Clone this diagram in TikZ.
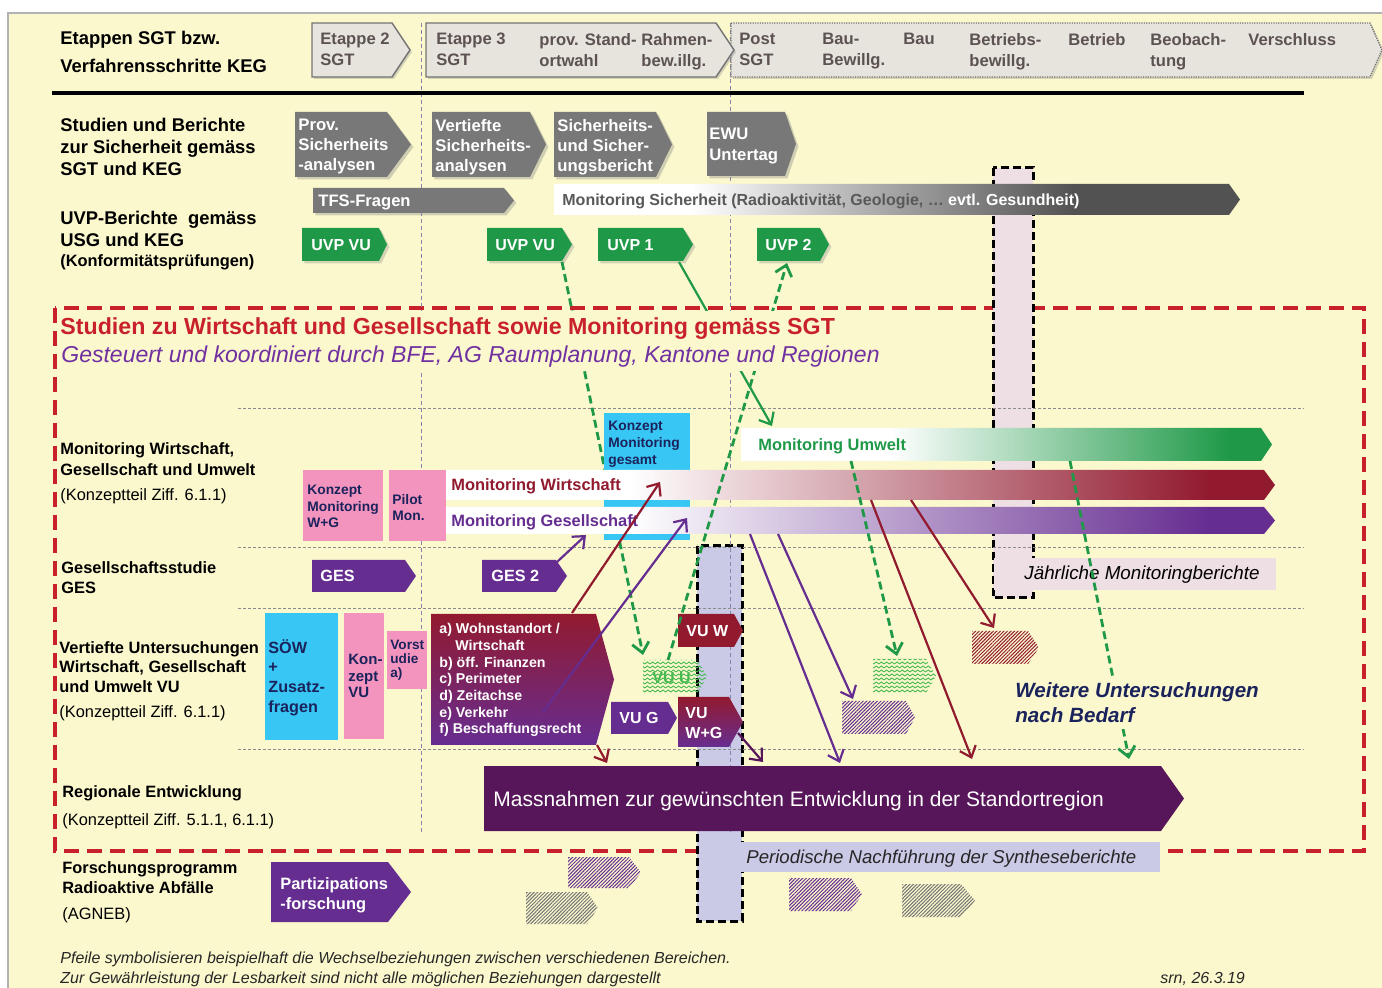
\documentclass[tikz,border=0pt]{standalone}
\usepackage{fontspec}
\setmainfont{Liberation Sans}
\usetikzlibrary{arrows.meta, patterns, patterns.meta, shadows}

\definecolor{bgyel}{RGB}{251,248,206}
\definecolor{hdrfill}{RGB}{231,228,222}
\definecolor{hdrtext}{RGB}{92,82,82}
\definecolor{sgray}{RGB}{120,120,120}
\definecolor{ugreen}{RGB}{31,153,72}
\definecolor{vuugreen}{RGB}{70,185,80}
\definecolor{wred}{RGB}{146,26,47}
\definecolor{gpurple}{RGB}{102,45,145}
\definecolor{plum}{RGB}{87,22,89}
\definecolor{kcyan}{RGB}{56,198,244}
\definecolor{kpink}{RGB}{243,148,190}
\definecolor{knavy}{RGB}{27,35,92}
\definecolor{colpink}{RGB}{238,223,228}
\definecolor{collav}{RGB}{202,201,230}
\definecolor{dred}{RGB}{201,33,41}
\definecolor{tpurple}{RGB}{112,48,160}

\pgfdeclarehorizontalshading{msich}{100bp}{color(0bp)=(white); color(35bp)=(white); color(63bp)=(black!68); color(100bp)=(black!68)}
\pgfdeclarehorizontalshading{mwirt}{100bp}{color(0bp)=(white); color(36bp)=(white); color(71bp)=(wred); color(100bp)=(wred)}
\pgfdeclarehorizontalshading{mges}{100bp}{color(0bp)=(white); color(36bp)=(white); color(71bp)=(gpurple); color(100bp)=(gpurple)}
\pgfdeclarehorizontalshading{mumw}{100bp}{color(0bp)=(white); color(39bp)=(white); color(71bp)=(ugreen); color(100bp)=(ugreen)}

\pgfdeclarepatternformonly{zigzag}{\pgfqpoint{-0.5pt}{-0.5pt}}{\pgfqpoint{3.5pt}{2.5pt}}{\pgfqpoint{2.6pt}{2pt}}{%
  \pgfsetlinewidth{0.45pt}%
  \pgfpathmoveto{\pgfqpoint{0pt}{0pt}}%
  \pgfpathlineto{\pgfqpoint{1.3pt}{1pt}}%
  \pgfpathlineto{\pgfqpoint{2.6pt}{0pt}}%
  \pgfusepath{stroke}}

\newcommand{\fsz}[2]{\fontsize{#1}{#2}\selectfont}
% chevron: left, top, tip x, bottom, tip length
\newcommand{\chev}[5]{(#1,#2) -- (#3-#5,#2) -- (#3,{(#2+#4)/2}) -- (#3-#5,#4) -- (#1,#4) -- cycle}

\begin{document}
\begin{tikzpicture}[x=0.5pt, y=-0.5pt,
    >={Straight Barb[length=5pt, width=8.5pt]},
    hdrarrow/.style={fill=hdrfill, draw=black!55, line width=0.7pt, drop shadow={shadow xshift=1pt, shadow yshift=-1pt, opacity=0.3}},
    safearrow/.style={fill=sgray, drop shadow={shadow xshift=1.2pt, shadow yshift=-1.2pt, opacity=0.35}},
    uvparrow/.style={fill=ugreen, drop shadow={shadow xshift=1.2pt, shadow yshift=-1.2pt, opacity=0.3}},
    hatch/.style={pattern={Lines[angle=45, distance=1.25pt, line width=0.5pt]}},
    column/.style={draw=black, line width=1.5pt, dash pattern=on 4pt off 2pt},
    redframe/.style={draw=dred, line width=1.6pt, dash pattern=on 7.5pt off 4pt},
    gridline/.style={draw=black!45, line width=0.5pt, dash pattern=on 1.5pt off 1pt},
    vline/.style={draw=blue!20!gray!80, line width=0.4pt, dash pattern=on 2pt off 1.5pt},
    link/.style={line width=1.1pt, ->},
    dashlink/.style={link, line width=1.4pt, dash pattern=on 4pt off 2.2pt},
    rowlbl/.style={anchor=north west, inner sep=0pt, align=left, font=\fsz{9.2}{11}\bfseries},
    rowlbls/.style={anchor=north west, inner sep=0pt, align=left, font=\fsz{8.2}{10.5}\bfseries},
    rowref/.style={anchor=base west, inner sep=0pt, font=\fsz{8.2}{10}},
    hdrtxt/.style={anchor=north west, inner sep=0pt, align=left, text=hdrtext, font=\fsz{8.3}{10.5}\bfseries},
    boxtxt/.style={anchor=north west, inner sep=0pt, align=left},
    chevtxt/.style={anchor=base west, inner sep=0pt, text=white, font=\fsz{8}{10}\bfseries}]

  % background
  \useasboundingbox (0,0) rectangle (1382,988);
  \fill[white] (0,0) rectangle (1382,988);
  \fill[bgyel] (8,13) rectangle (1382,988);
  \draw[black!30, line width=0.8pt] (8,988) -- (8,13) -- (1382,13);

  % frame, columns, grid
  \draw[redframe] (55,308) rectangle (1364,851);
  \filldraw[column, fill=colpink] (993,168) rectangle (1033,598);
  \filldraw[column, fill=collav] (697,546) rectangle (742,921);
  \foreach \y in {409,548,609,750}
    \draw[gridline] (238,\y) -- (1304,\y);
  \foreach \x in {421,730}
    \draw[vline] (\x,23) -- (\x,835);

  % header
  \filldraw[hdrarrow, dash pattern=on 0.6pt off 0.6pt] \chev{731}{23}{1382}{77}{12};
  \filldraw[hdrarrow] \chev{426}{23}{734}{77}{18};
  \filldraw[hdrarrow] \chev{312}{23}{410}{77}{18};
  \foreach \x/\htext [count=\i] in {320/Etappe 2\\SGT, 436/Etappe 3\\SGT, 539/prov. Stand-\\ortwahl,
      641/Rahmen-\\bew.illg., 739/Post\\SGT, 822/Bau-\\Bewillg., 903/Bau, 969/Betriebs-\\bewillg.,
      1068/Betrieb, 1150/Beobach-\\tung, 1248/Verschluss}
    \node[hdrtxt] (hdr\i) at (\x,33) {\htext};
  \draw[line width=1.6pt] (52,93) -- (1304,93);

  % row labels
  \node[rowlbl, font=\fsz{9.2}{14}\bfseries] (lblEtappen) at (60,31) {Etappen SGT bzw.\\Verfahrensschritte KEG};
  \node[rowlbl] (lblStudien) at (60,118) {Studien und Berichte\\zur Sicherheit gemäss\\SGT und KEG};
  \node[rowlbl] (lblUVP) at (60,211) {UVP-Berichte\ \ gemäss\\USG und KEG};
  \node[rowref, font=\fsz{8.2}{10}\bfseries] (lblKonf) at (60,267) {(Konformitätsprüfungen)};
  \node[rowlbls] (lblMon) at (60,442) {Monitoring Wirtschaft,\\Gesellschaft und Umwelt};
  \node[rowref] (lblMonRef) at (60,501) {(Konzeptteil Ziff. 6.1.1)};
  \node[rowlbls, font=\fsz{8.2}{10}\bfseries] (lblGES) at (61,561) {Gesellschaftsstudie\\GES};
  \node[rowlbls, font=\fsz{8.2}{9.75}\bfseries] (lblVU) at (59,641) {Vertiefte Untersuchungen\\Wirtschaft, Gesellschaft\\und Umwelt VU};
  \node[rowref] (lblVURef) at (59,718) {(Konzeptteil Ziff. 6.1.1)};
  \node[rowref, font=\fsz{8.2}{10}\bfseries] (lblReg) at (62,798) {Regionale Entwicklung};
  \node[rowref] (lblRegRef) at (62,825) {(Konzeptteil Ziff. 5.1.1, 6.1.1)};
  \node[rowlbls, font=\fsz{8.2}{10}\bfseries] (lblForsch) at (62,861) {Forschungsprogramm\\Radioaktive Abfälle};
  \node[rowref] (lblAgneb) at (62,919) {(AGNEB)};

  % safety studies
  \fill[safearrow] \chev{295}{112}{411}{177}{24};
  \fill[safearrow] \chev{432}{112}{546}{177}{16};
  \fill[safearrow] \chev{554}{112}{672}{177}{16};
  \fill[safearrow] \chev{707}{112}{796}{176}{11};
  \fill[safearrow] \chev{313}{188}{514}{213}{10};
  \shade[shading=msich] \chev{554}{184}{1240}{215}{11};
  \node[boxtxt, text=white, font=\fsz{8.35}{10}\bfseries] (prov) at (298,119) {Prov.\\Sicherheits\\-analysen};
  \node[boxtxt, text=white, font=\fsz{8.35}{10}\bfseries] (vertiefte) at (435,119) {Vertiefte\\Sicherheits-\\analysen};
  \node[boxtxt, text=white, font=\fsz{8.35}{10}\bfseries] (sichber) at (557,119) {Sicherheits-\\und Sicher-\\ungsbericht};
  \node[boxtxt, text=white, font=\fsz{8.35}{10.5}\bfseries] (ewu) at (709,128) {EWU\\Untertag};
  \node[chevtxt, font=\fsz{8.3}{10}\bfseries] (tfs) at (318,206.5) {TFS-Fragen};
  \node[chevtxt, text=black!65] (monsich) at (562,205.8) {Monitoring Sicherheit (Radioaktivität, Geologie, … \textcolor{white}{evtl. Gesundheit)}};

  % UVP
  \fill[uvparrow] \chev{302}{228}{387}{261}{8};
  \fill[uvparrow] \chev{487}{228}{572}{261}{10};
  \fill[uvparrow] \chev{598}{228}{693}{261}{10};
  \fill[uvparrow] \chev{757}{228}{829}{261}{9};
  \node[chevtxt] (uvpvu) at (311,250.3) {UVP VU};
  \node[chevtxt] (uvpvu2) at (495,250.3) {UVP VU};
  \node[chevtxt] (uvp1) at (607,250.3) {UVP 1};
  \node[chevtxt] (uvp2) at (765,250.3) {UVP 2};

  % link behind the concept box
  \coordinate (uvpvuB) at (562,262);
  \coordinate (vuuT) at (643,655);
  \draw[dashlink, ugreen] (uvpvuB) -- (vuuT);

  % monitoring
  \fill[kcyan] (604,413) rectangle (690,540);
  \fill[kpink] (303,470) rectangle (383,541);
  \fill[kpink] (389,470) rectangle (446,541);
  \node[boxtxt, text=knavy, font=\fsz{6.9}{8.5}\bfseries] (kmges) at (608,421) {Konzept\\Monitoring\\gesamt};
  \node[boxtxt, text=knavy, font=\fsz{6.9}{8.25}\bfseries] (kmwg) at (307,485) {Konzept\\Monitoring\\W+G};
  \node[boxtxt, text=knavy, font=\fsz{6.9}{8}\bfseries] (pilot) at (392,494) {Pilot\\Mon.};
  \shade[shading=mumw] \chev{741}{428}{1272}{461}{11};
  \shade[shading=mwirt] \chev{446}{470}{1275}{500}{11};
  \shade[shading=mges] \chev{446}{507}{1275}{534}{11};
  \node[chevtxt, text=ugreen, font=\fsz{8.2}{10}\bfseries] (monu) at (758,451) {Monitoring Umwelt};
  \node[chevtxt, text=wred, font=\fsz{8.2}{10}\bfseries] (monw) at (451,491) {Monitoring Wirtschaft};
  \node[chevtxt, text=gpurple, font=\fsz{8.2}{10}\bfseries] (mong) at (451,527) {Monitoring Gesellschaft};
  \fill[colpink] (994,558) rectangle (1276,590);
  \node[anchor=base west, inner sep=0pt, font=\fsz{9.4}{11}\itshape] (jaehrl) at (1024,580) {Jährliche Monitoringberichte};

  % GES
  \fill[gpurple] \chev{312}{560}{416}{592}{11};
  \fill[gpurple] \chev{482}{560}{567}{592}{11};
  \node[chevtxt, font=\fsz{8.1}{10}\bfseries] (ges) at (320,582) {GES};
  \node[chevtxt, font=\fsz{8.1}{10}\bfseries] (ges2) at (491,582) {GES 2};

  % in-depth studies
  \fill[kcyan] (265,613) rectangle (338,740);
  \fill[kpink] (344,613) rectangle (384,739);
  \fill[kpink] (387,631) rectangle (427,689);
  \node[boxtxt, text=knavy, font=\fsz{8.1}{9.85}\bfseries] (soew) at (268,639) {SÖW\\+\\Zusatz-\\fragen};
  \node[boxtxt, text=knavy, font=\fsz{7.5}{8.25}\bfseries] (kvu) at (348,654) {Kon-\\zept\\VU};
  \node[boxtxt, text=knavy, font=\fsz{6.8}{7}\bfseries] (vorst) at (390,640) {Vorst\\udie\\a)};
  \shade[top color=wred, bottom color=gpurple] \chev{431}{614}{614}{745}{18};
  \node[boxtxt, text=white, font=\fsz{7.1}{8.35}\bfseries] (wohn) at (439,623) {a) Wohnstandort /\\\hspace*{8pt}Wirtschaft\\b) öff. Finanzen\\c) Perimeter\\d) Zeitachse\\e) Verkehr\\f) Beschaffungsrecht};
  \fill[wred] \chev{678}{614}{743}{647}{9};
  \fill[pattern=zigzag, pattern color=vuugreen] \chev{643}{660}{707}{693}{9};
  \fill[gpurple] \chev{611}{702}{677}{734}{9};
  \shade[top color=wred, bottom color=gpurple] \chev{678}{697}{743}{747}{14};
  \node[chevtxt] (vuw) at (686,636.5) {VU W};
  \node[chevtxt, text=vuugreen] (vuu) at (652,683) {VU U};
  \node[chevtxt] (vug) at (619,724) {VU G};
  \node[boxtxt, text=white, font=\fsz{8}{10}\bfseries] (vuwg) at (685,707) {VU\\W+G};
  \fill[pattern=zigzag, pattern color=vuugreen] \chev{873}{659}{936}{693}{10};
  \fill[hatch, pattern color=gpurple] \chev{842}{701}{915}{734}{9};
  \fill[hatch, pattern color=wred] \chev{972}{631}{1039}{664}{11};

  % regional development and research
  \fill[plum] \chev{484}{766}{1184}{831}{23};
  \node[chevtxt, font=\fsz{10.5}{12}] (massn) at (493,806) {Massnahmen zur gewünschten Entwicklung in der Standortregion};
  \fill[collav] (740,842) rectangle (1160,872);
  \node[anchor=base west, inner sep=0pt, font=\fsz{9.3}{11}\itshape, text=black!85] (period) at (746,863) {Periodische Nachführung der Syntheseberichte};
  \fill[gpurple] \chev{271}{862}{411}{922}{23};
  \node[boxtxt, text=white, font=\fsz{8.2}{10}\bfseries] (partiz) at (280,877) {Partizipations\\-forschung};
  \fill[hatch, pattern color=gpurple] \chev{568}{857}{641}{888}{12};
  \fill[hatch, pattern color=black!55] \chev{526}{892}{598}{924}{11};
  \fill[hatch, pattern color=gpurple] \chev{789}{878}{862}{911}{11};
  \fill[hatch, pattern color=black!55] \chev{902}{884}{975}{917}{14};

  % environment links
  \coordinate (vuuTop) at (668,660);
  \coordinate (uvp2B) at (787,263);
  \draw[dashlink, ugreen] (vuuTop) -- (uvp2B);
  \coordinate (uvp1B) at (679,262);
  \coordinate (monuT) at (772,426);
  \draw[link, ugreen] (uvp1B) -- (monuT);
  \coordinate (monuB1) at (851,461);
  \coordinate (hatchuT) at (897,656);
  \draw[dashlink, ugreen] (monuB1) -- (hatchuT);
  \coordinate (monuB2) at (1070,461);
  \coordinate (massnT1) at (1129,759);
  \draw[dashlink, ugreen] (monuB2) -- (massnT1);

  % economy links
  \coordinate (wohnT) at (572,613);
  \coordinate (monwB1) at (660,482);
  \draw[link, wred] (wohnT) -- (monwB1);
  \coordinate (wohnB) at (597,745);
  \coordinate (massnT2) at (607,763);
  \draw[link, wred] (wohnB) -- (massnT2);
  \coordinate (monwB2) at (871,500);
  \coordinate (massnT3) at (972,759);
  \draw[link, wred] (monwB2) -- (massnT3);
  \coordinate (monwB3) at (911,500);
  \coordinate (hatchwT) at (994,628);
  \draw[link, wred] (monwB3) -- (hatchwT);

  % society links
  \coordinate (ges2T) at (557,562);
  \coordinate (mongB1) at (586,535);
  \draw[link, gpurple] (ges2T) -- (mongB1);
  \coordinate (wohnIn) at (543,712);
  \coordinate (mongB2) at (687,518);
  \draw[link, gpurple] (wohnIn) -- (mongB2);
  \coordinate (mongB3) at (750,534);
  \coordinate (massnT4) at (840,763);
  \draw[link, gpurple] (mongB3) -- (massnT4);
  \coordinate (mongB4) at (778,534);
  \coordinate (hatchgT) at (853,699);
  \draw[link, gpurple] (mongB4) -- (hatchgT);
  \coordinate (vuwgB) at (738,733);
  \coordinate (massnT5) at (763,762);
  \draw[link, plum] (vuwgB) -- (massnT5);

  % titles over the links
  \fill[bgyel] (58,311) rectangle (892,371);
  \node[anchor=north west, inner sep=0pt, font=\fsz{11.6}{14}\bfseries, text=dred] (title) at (60,317) {Studien zu Wirtschaft und Gesellschaft sowie Monitoring gemäss SGT};
  \node[anchor=north west, inner sep=0pt, font=\fsz{11.5}{14}\itshape, text=tpurple] (subtitle) at (61,345) {Gesteuert und koordiniert durch BFE, AG Raumplanung, Kantone und Regionen};
  \fill[bgyel] (1012,678) rectangle (1262,729);
  \node[boxtxt, text=knavy, font=\fsz{10.3}{12.5}\bfseries\itshape] (weitere) at (1015,682) {Weitere Untersuchungen\\nach Bedarf};

  % footer
  \node[anchor=base west, inner sep=0pt, font=\fsz{8}{10}\itshape, text=black!85] (foot1) at (60,963) {Pfeile symbolisieren beispielhaft die Wechselbeziehungen zwischen verschiedenen Bereichen.};
  \node[anchor=base west, inner sep=0pt, font=\fsz{8}{10}\itshape, text=black!85] (foot2) at (60,983) {Zur Gewährleistung der Lesbarkeit sind nicht alle möglichen Beziehungen dargestellt};
  \node[anchor=base west, inner sep=0pt, font=\fsz{8}{10}\itshape, text=black!85] (sign) at (1160,983) {srn, 26.3.19};
\end{tikzpicture}
\end{document}
